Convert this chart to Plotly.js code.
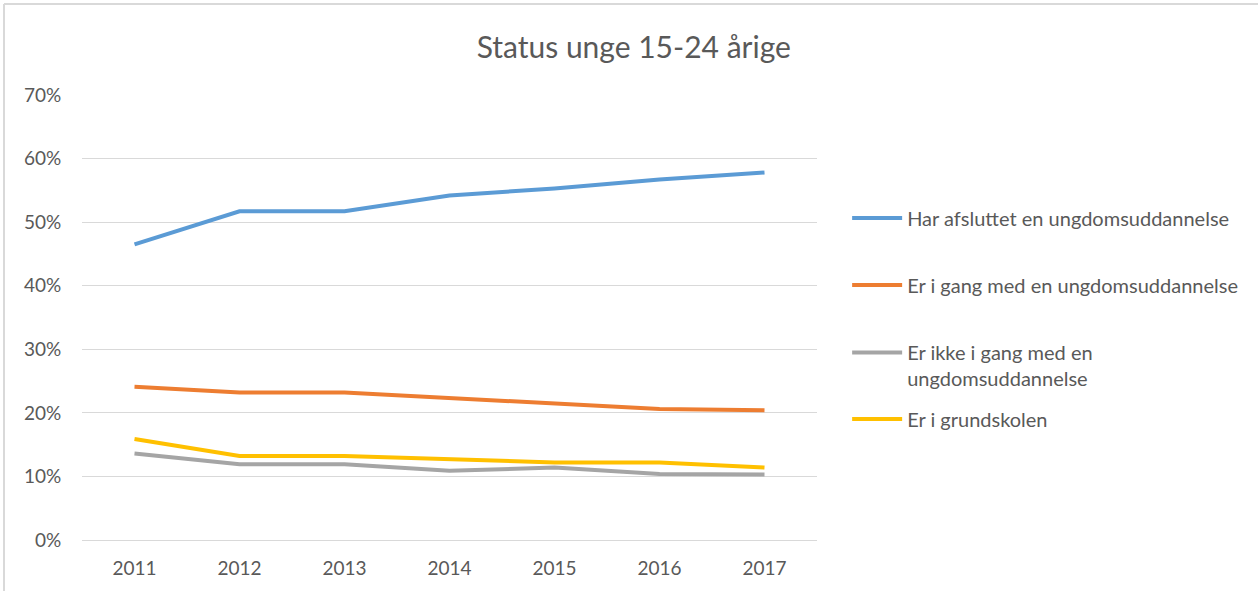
<!DOCTYPE html>
<html>
<head>
<meta charset="utf-8">
<script src="https://cdn.plot.ly/plotly-3.0.1.min.js"></script>
<style>
html,body{margin:0;padding:0;background:#fff;}
#chart{width:1260px;height:591px;}
</style>
</head>
<body>
<div id="chart"></div>
<script>
var years = ['2011','2012','2013','2014','2015','2016','2017'];
var seriesNames = [
  'Har afsluttet en ungdomsuddannelse',
  'Er i gang med en ungdomsuddannelse',
  'Er ikke i gang med en<br>ungdomsuddannelse',
  'Er i grundskolen'
];
var harAfsluttet = [0.465, 0.517, 0.517, 0.542, 0.553, 0.567, 0.578];
var iGang = [0.241, 0.232, 0.232, 0.223, 0.214, 0.206, 0.204];
var ikkeIGang = [0.136, 0.119, 0.119, 0.109, 0.114, 0.104, 0.103];
var grundskolen = [0.159, 0.132, 0.132, 0.127, 0.122, 0.122, 0.114];
var yTicks = [0, 0.1, 0.2, 0.3, 0.4, 0.5, 0.6, 0.7];
var yTickText = ['0%','10%','20%','30%','40%','50%','60%','70%'];

var colors = ['#5B9BD5', '#ED7D31', '#A5A5A5', '#FFC000'];
var values = [harAfsluttet, iGang, ikkeIGang, grundskolen];
var legendIds = ['legend', 'legend2', 'legend3', 'legend4'];

var font = 'Lato, "Open Sans", sans-serif';
var txt = '#595959';

var traces = values.map(function(v, i){
  return {
    type: 'scatter', mode: 'lines', x: years, y: v, name: seriesNames[i],
    line: {color: colors[i], width: 4},
    legend: legendIds[i]
  };
});

function leg(y){
  return {x: 1.041, xanchor: 'left', y: y, yanchor: 'middle', valign: 'top',
          font: {family: font, size: 20, color: txt}, bgcolor: 'rgba(0,0,0,0)',
          itemwidth: 50};
}

var layout = {
  width: 1260, height: 591,
  margin: {l: 82, r: 443, t: 95, b: 51},
  paper_bgcolor: '#fff', plot_bgcolor: '#fff',
  showlegend: true,
  title: {text: 'Status unge 15-24 årige', x: 0.503, xanchor: 'center', y: 0.92, yanchor: 'middle',
          font: {family: font, size: 30, color: txt}},
  xaxis: {type: 'category', range: [-0.5, 6.5], showgrid: false, zeroline: false,
          showline: true, linecolor: '#D9D9D9', linewidth: 1,
          ticks: 'outside', ticklen: 11, tickcolor: 'rgba(0,0,0,0)',
          tickfont: {family: font, size: 19, color: txt}},
  yaxis: {range: [0, 0.7], tickvals: yTicks, ticktext: yTickText,
          showgrid: true, gridcolor: '#D9D9D9', gridwidth: 1, zeroline: false, showline: false,
          ticks: 'outside', ticklen: 16, tickcolor: 'rgba(0,0,0,0)',
          tickfont: {family: font, size: 19, color: txt}},
  legend: leg(0.7236),
  legend2: leg(0.5730),
  legend3: leg(0.3921),
  legend4: leg(0.2719),
  shapes: [
    {type: 'line', xref: 'paper', yref: 'paper', x0: -0.1061, x1: 1.6, y0: 1.2045, y1: 1.2045,
     line: {color: '#D9D9D9', width: 2}},
    {type: 'line', xref: 'paper', yref: 'paper', x0: -0.1061, x1: -0.1061, y0: 1.2045, y1: -0.2,
     line: {color: '#D9D9D9', width: 2}}
  ]
};

Plotly.newPlot('chart', traces, layout, {displayModeBar: false, staticPlot: true});
</script>
</body>
</html>
